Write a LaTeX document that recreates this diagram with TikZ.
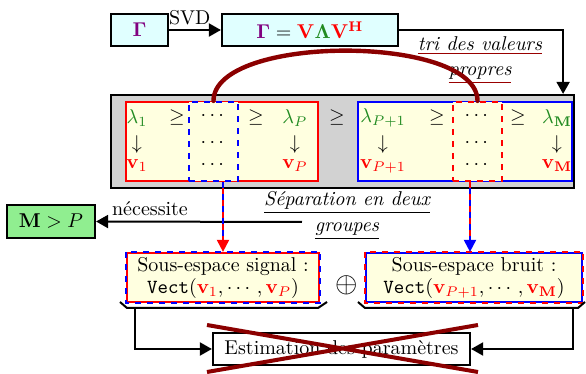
\documentclass[tikz,border=0pt]{standalone}
\usepackage{amsmath,bm}
\usetikzlibrary{arrows.meta,calc}
\definecolor{dred}{RGB}{139,0,0}
\definecolor{lgreen}{RGB}{144,238,144}
\definecolor{lcyan}{RGB}{224,255,255}
\definecolor{lyel}{RGB}{255,255,224}
\definecolor{mgreen}{RGB}{34,139,34}
\definecolor{mpurple}{RGB}{128,0,128}
\newcommand\ulc[2]{\textcolor{#1}{\underline{\textcolor{black}{#2}}}}
\tikzset{
  boxst/.style={draw=black, line width=1.1pt, inner sep=0pt, align=center},
  arr/.style={line width=1pt, -{Triangle[length=6pt,width=6.5pt]}},
  ent/.style={inner sep=0pt, anchor=center},
}
\begin{document}
\begin{tikzpicture}[x=0.5pt,y=-0.5pt]
\useasboundingbox (0,0) rectangle (586,374);
% top boxes
\node[boxst, fill=lcyan, minimum width=28.5pt, minimum height=16pt] (gam) at (139.5,30) {$\color{mpurple}\bm{\Gamma}$};
\node[boxst, fill=lcyan, minimum width=88pt, minimum height=16pt] (svd) at (310,30)
  {$\color{mpurple}\bm{\Gamma}\color{black}=\color{red}\mathbf{V}\color{mgreen}\bm{\Lambda}\color{red}\mathbf{V}^{\mathbf{H}}$};
\draw[arr] (gam.east) -- node[above=-1.5pt, pos=0.4] (svdl) {SVD} (svd.west);
% gray box
\node[boxst, fill=gray!35, minimum width=231.5pt, minimum height=46.5pt] (gray) at (342.5,141.5) {};
\coordinate (tri) at ($(gray.north east)+(-12,0)$);
\draw[arr] (svd.east) -| (tri);
\node[align=center, font=\itshape] (tril) at (480,60) {\ulc{red!60!black}{tri des valeurs}\\[1pt]\ulc{red!60!black}{propres}};
% red and blue groups
\node[draw=red, line width=1.1pt, fill=lyel, minimum width=96pt, minimum height=39.5pt] (rbox) at (222,141.5) {};
\node[draw=blue, line width=1.1pt, fill=lyel, minimum width=107pt, minimum height=39.5pt] (bbox) at (465,141.5) {};
\node[draw=blue, line width=1.1pt, dashed, fill=lyel, minimum width=24.5pt, minimum height=39.5pt] (bdash) at (213.5,141.5) {};
\node[draw=red, line width=1.1pt, dashed, fill=lyel, minimum width=24.5pt, minimum height=39.5pt] (rdash) at (477.5,141.5) {};
% entries
\node[ent] (l1) at (137,118) {$\color{mgreen}\lambda_1$};
\node[ent] (g1) at (177,118) {$\geq$};
\node[ent] (d1) at (214,116) {$\cdots$};
\node[ent] (g2) at (256,118) {$\geq$};
\node[ent] (lP) at (295,118) {$\color{mgreen}\lambda_P$};
\node[ent] (g3) at (337,118) {$\geq$};
\node[ent] (lP1) at (383,118) {$\color{mgreen}\lambda_{P+1}$};
\node[ent] (g4) at (437,118) {$\geq$};
\node[ent] (d2) at (478,116) {$\cdots$};
\node[ent] (g5) at (518,118) {$\geq$};
\node[ent] (lM) at (557,118) {$\color{mgreen}\lambda_{\mathbf{M}}$};
\node[ent] (a1) at (137,145) {$\downarrow$};
\node[ent] (d3) at (214,143) {$\cdots$};
\node[ent] (a2) at (295,145) {$\downarrow$};
\node[ent] (a3) at (383,145) {$\downarrow$};
\node[ent] (d4) at (478,143) {$\cdots$};
\node[ent] (a4) at (557,145) {$\downarrow$};
\node[ent] (v1) at (137,166) {$\color{red}\mathbf{v}_1$};
\node[ent] (d5) at (214,165) {$\cdots$};
\node[ent] (vP) at (295,166) {$\color{red}\mathbf{v}_P$};
\node[ent] (vP1) at (383,166) {$\color{red}\mathbf{v}_{P+1}$};
\node[ent] (d6) at (478,165) {$\cdots$};
\node[ent] (vM) at (557,166) {$\color{red}\mathbf{v}_{\mathbf{M}}$};
% arc
\draw[dred, line width=2.2pt, line cap=round] (bdash.north) .. controls ($(bdash.north)+(0,-67)$) and ($(rdash.north)+(0,-67)$) .. (rdash.north);
% separation
\node[boxst, fill=lgreen, minimum width=44pt, minimum height=16.5pt] (MP) at (51,221.5) {$\mathbf{M} > P$};
\coordinate (sepst) at (302,222);
\draw[arr] (sepst) -- (MP.east);
\node (nec) at (150,209) {nécessite};
\node[align=center, font=\itshape] (sepl) at (347,216) {\ulc{black}{Séparation en deux}\\[1pt]\ulc{black}{groupes}};
% subspace boxes
\node[draw=red, line width=1.1pt, fill=lyel, minimum width=96pt, minimum height=24.5pt, align=center, inner sep=0pt] (sig) at (223,277.5)
  {Sous-espace signal :\\[-1pt] \texttt{Vect}$(\color{red}\mathbf{v}_1\color{black},\cdots,\color{red}\mathbf{v}_P\color{black})$};
\draw[blue, line width=1.1pt, dashed] (sig.north west) rectangle (sig.south east);
\node[draw=blue, line width=1.1pt, fill=lyel, minimum width=108pt, minimum height=24.5pt, align=center, inner sep=0pt] (noi) at (474,277.5)
  {Sous-espace bruit :\\[-1pt] \texttt{Vect}$(\color{red}\mathbf{v}_{P+1}\color{black},\cdots,\color{red}\mathbf{v}_{\mathbf{M}}\color{black})$};
\draw[red, line width=1.1pt, dashed] (noi.north west) rectangle (noi.south east);
\node (plus) at (347,285) {\Large$\oplus$};
% down arrows
\draw[red, line width=1pt, -{Triangle[length=6pt,width=6pt]}] (sig.north |- bdash.south) -- (sig.north);
\draw[blue, line width=1pt, dashed, shorten >=6pt] (sig.north |- bdash.south) -- (sig.north);
\draw[blue, line width=1pt, -{Triangle[length=6pt,width=6pt]}] ([xshift=-2pt]noi.north |- rdash.south) -- ([xshift=-2pt]noi.north);
\draw[red, line width=1pt, dashed, shorten >=6pt] ([xshift=-2pt]noi.north |- rdash.south) -- ([xshift=-2pt]noi.north);
% braces
\draw[line width=1pt] (120,302) -- (127,308) -- (318,308) -- (327,302);
\draw[line width=1pt] (358,302) -- (365,308) -- (578,308) -- (585,302);
% estimation
\node[boxst, fill=white, minimum width=128.5pt, minimum height=16pt] (est) at (341.5,349) {Estimation des paramètres};
\coordinate (bl) at (135,308);
\coordinate (br) at (573,308);
\draw[arr] (bl) |- (est.west);
\draw[arr] (br) |- (est.east);
\coordinate (x1) at (207,325);
\coordinate (x2) at (478,372);
\coordinate (x3) at (207,372);
\coordinate (x4) at (478,325);
\draw[dred, line width=2pt] (x1) -- (x2) (x3) -- (x4);
\end{tikzpicture}
\end{document}
